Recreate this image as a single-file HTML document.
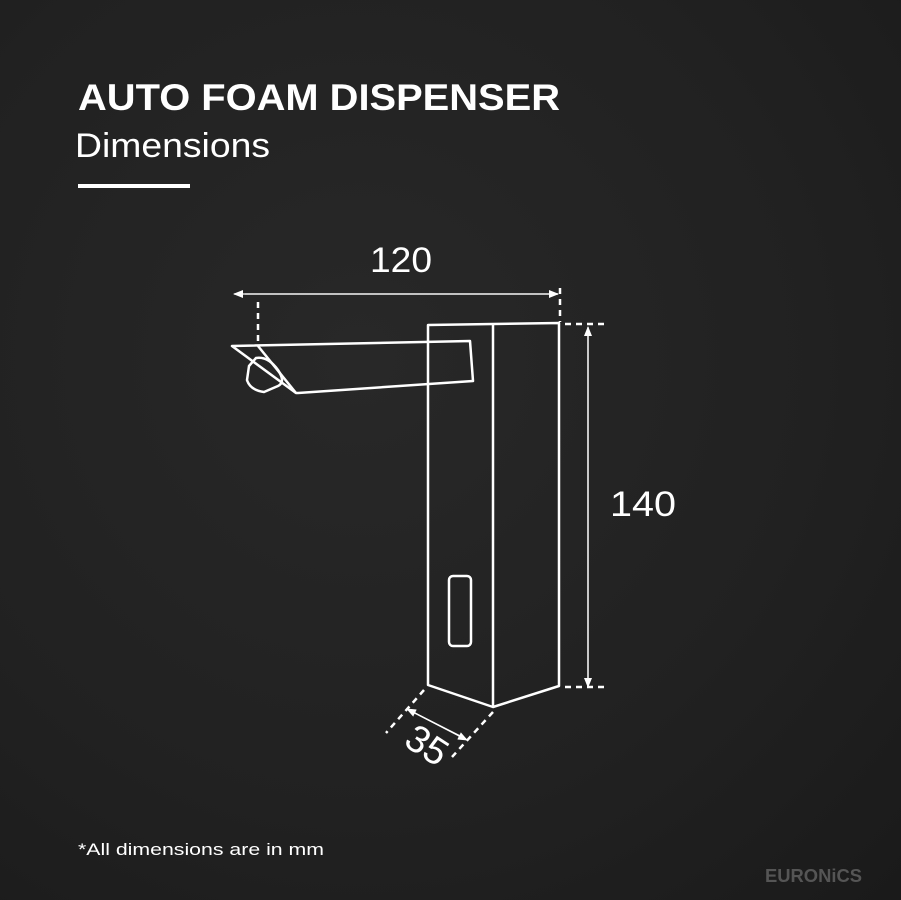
<!DOCTYPE html>
<html><head><meta charset="utf-8"><style>
html,body{margin:0;padding:0}
body{width:901px;height:900px;overflow:hidden;background:radial-gradient(ellipse at 40% 40%,#282828 0%,#212121 60%,#1a1a1a 100%);font-family:"Liberation Sans",sans-serif;position:relative}
svg{position:absolute;left:0;top:0}
</style></head><body>
<svg width="901" height="900" viewBox="0 0 901 900">
<defs>
<marker id="a" markerWidth="10" markerHeight="8" refX="9" refY="4" orient="auto" markerUnits="userSpaceOnUse"><path d="M0,0 L10,4 L0,8 z" fill="#fff"/></marker>
</defs>
<text x="78" y="110" fill="#fff" font-size="37" font-weight="bold" textLength="482" lengthAdjust="spacingAndGlyphs">AUTO FOAM DISPENSER</text>
<text x="75" y="157" fill="#fff" font-size="34" textLength="195" lengthAdjust="spacingAndGlyphs">Dimensions</text>
<rect x="78" y="184" width="112" height="4" fill="#fff"/>
<g stroke="#fff" fill="none" stroke-width="2.5" stroke-linejoin="round">
<path d="M428,325 L559,323 L559,686 L493,707 L428,685 Z"/>
<line x1="493" y1="324" x2="493" y2="707"/>
<rect x="449" y="576" width="22" height="70" rx="4"/>
<path d="M232,346 L470,341 L473,381 L298,393 L296,393 Z"/>
<path d="M258,346 L296,393"/>
<path d="M256,358 Q268,356 278,370 Q286,382 278,386 L264,392 Q250,390 247,380 L249,366 Z"/>
</g>
<g stroke="#fff" stroke-width="2.5" stroke-dasharray="6,5" fill="none">
<line x1="258" y1="302" x2="258" y2="346"/>
<line x1="560" y1="288" x2="560" y2="322"/>
<line x1="565" y1="324" x2="607" y2="324"/>
<line x1="565" y1="687" x2="607" y2="687"/>
<line x1="424" y1="690" x2="386" y2="733"/>
<line x1="493" y1="712" x2="452" y2="757"/>
</g>
<g stroke="#fff" stroke-width="1.3" fill="none">
<line x1="245" y1="294" x2="558" y2="294" marker-end="url(#a)"/>
<line x1="558" y1="294" x2="234" y2="294" marker-end="url(#a)"/>
<line x1="588" y1="686" x2="588" y2="327" marker-end="url(#a)"/>
<line x1="588" y1="330" x2="588" y2="687" marker-end="url(#a)"/>
<line x1="466" y1="739" x2="407" y2="709" marker-end="url(#a)"/>
<line x1="407" y1="709" x2="467" y2="740" marker-end="url(#a)"/>
</g>
<text x="370" y="272" fill="#fff" font-size="35" textLength="62" lengthAdjust="spacingAndGlyphs">120</text>
<text x="610" y="516" fill="#fff" font-size="35" textLength="66" lengthAdjust="spacingAndGlyphs">140</text>
<text transform="translate(420,756) rotate(33)" fill="#fff" font-size="38" text-anchor="middle">35</text>
<text x="78" y="855" fill="#fff" font-size="17" textLength="246" lengthAdjust="spacingAndGlyphs">*All dimensions are in mm</text>
<text x="765" y="882" fill="#555" font-size="18" font-weight="bold" textLength="97" lengthAdjust="spacingAndGlyphs">EURONiCS</text>
</svg>
</body></html>
